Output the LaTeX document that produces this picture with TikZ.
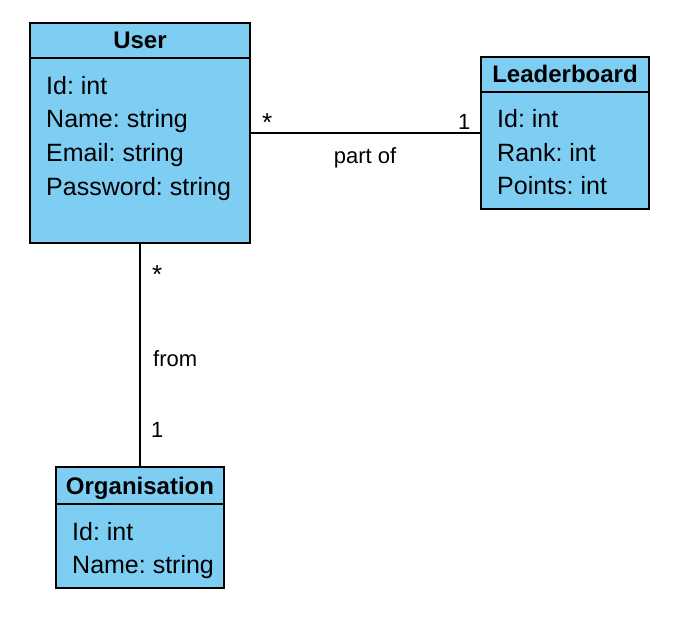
\documentclass[tikz,border=0pt]{standalone}
\usepackage{fontspec}
\setmainfont{Liberation Sans}
\frenchspacing
\definecolor{classblue}{RGB}{126,206,244}
\tikzstyle{classbox} = [draw, line width=2pt, fill=classblue, inner sep=0pt]
\tikzstyle{head} = [draw, line width=2pt, inner sep=0pt, anchor=north, text height=17pt, text depth=0pt, font=\fontsize{24}{28}\selectfont\bfseries]
\tikzstyle{attr} = [anchor=base west, inner sep=0pt, font=\fontsize{25}{30}\selectfont]
\tikzstyle{lab} = [anchor=base west, inner sep=0pt, font=\fontsize{22}{26}\selectfont]
\tikzstyle{assoc} = [line width=2pt]

\begin{document}
\begin{tikzpicture}[x=1pt, y=-1pt]
  \useasboundingbox (0,0) rectangle (694,620);

  % classes
  \node (user) at (140,133) [classbox, minimum width=220pt, minimum height=220pt] {};
  \node (userhead) at (user.north) [head, minimum width=220pt, minimum height=35pt] {User};
  \node (board) at (565,133) [classbox, minimum width=168pt, minimum height=152pt] {};
  \node (boardhead) at (board.north) [head, minimum width=168pt, minimum height=35pt] {Leaderboard};
  \node (org) at (140,527.5) [classbox, minimum width=168pt, minimum height=121pt] {};
  \node (orghead) at (org.north) [head, minimum width=168pt, minimum height=37pt] {Organisation};

  % attributes
  \node (u1) at (46,95) [attr] {Id: int};
  \node (u2) at (46,128) [attr] {Name: string};
  \node (u3) at (46,162) [attr] {Email: string};
  \node (u4) at (46,196) [attr] {Password: string};
  \node (b1) at (497,128) [attr] {Id: int};
  \node (b2) at (497,162) [attr] {Rank: int};
  \node (b3) at (497,195) [attr] {Points: int};
  \node (o1) at (72,540) [attr] {Id: int};
  \node (o2) at (72,573) [attr] {Name: string};

  % associations
  \draw [assoc] (user) -- (board);
  \node (m1) at (262,132) [lab, font=\fontsize{26}{30}\selectfont] {*};
  \node (m2) at (458,130) [lab] {1};
  \node (partof) at (365,164) [lab, anchor=base] {part of};
  \draw [assoc] (user) -- (org);
  \node (m3) at (152,284) [lab, font=\fontsize{26}{30}\selectfont] {*};
  \node (from) at (153,367) [lab] {from};
  \node (m4) at (151,438) [lab] {1};
\end{tikzpicture}
\end{document}
